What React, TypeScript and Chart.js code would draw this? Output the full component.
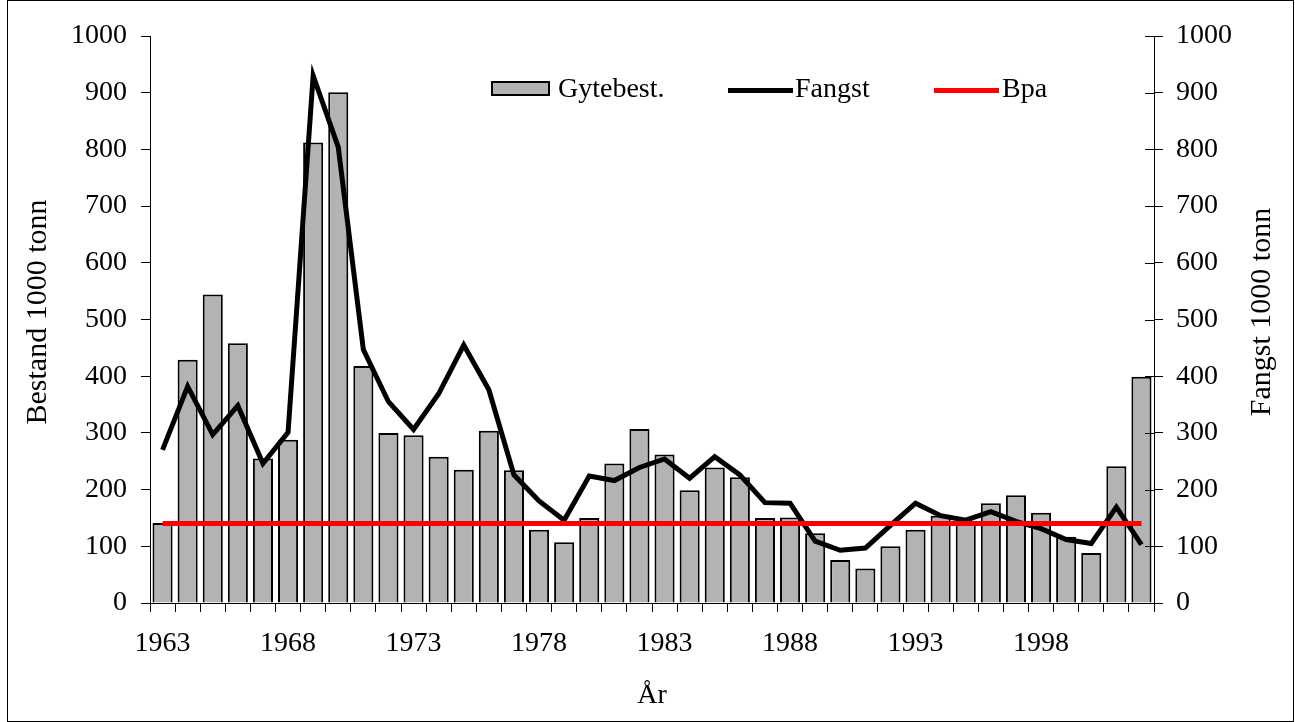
import React, { useEffect, useRef } from 'react';
import { Chart, registerables } from 'chart.js';

Chart.register(...registerables);

const FONT = "'Liberation Serif', 'Times New Roman', serif";

const YEARS = [
  '1963', '1964', '1965', '1966', '1967', '1968', '1969', '1970', '1971', '1972',
  '1973', '1974', '1975', '1976', '1977', '1978', '1979', '1980', '1981', '1982',
  '1983', '1984', '1985', '1986', '1987', '1988', '1989', '1990', '1991', '1992',
  '1993', '1994', '1995', '1996', '1997', '1998', '1999', '2000', '2001', '2002',
];

// Gytebestand (1000 tonn), left axis
const GYTEBEST = [
  141, 429, 544, 458, 255, 288, 812, 901, 418, 300,
  296, 258, 235, 304, 234, 129, 107, 150, 246, 307,
  262, 199, 239, 222, 150, 151, 123, 76, 61, 100,
  129, 154, 144, 176, 190, 159, 117, 88, 241, 399,
];

// Fangst (1000 tonn), right axis
const FANGST = [
  270, 382, 297, 348, 246, 301, 930, 804, 447, 355,
  306, 369, 455, 376, 226, 180, 146, 224, 216, 239,
  254, 220, 258, 226, 177, 176, 109, 93, 97, 137,
  176, 154, 146, 161, 144, 131, 112, 105, 169, 103,
];

// Precautionary reference level Bpa
const BPA = 140;

const Y_TICKS_MIN = 0;
const Y_TICKS_MAX = 1000;
const Y_TICKS_STEP = 100;
const X_LABEL_EVERY = 5;

const Y_TITLE = 'Bestand 1000 tonn';
const Y1_TITLE = 'Fangst 1000 tonn';
const X_TITLE = 'År';

const overlayPlugin = {
  id: 'overlay',
  afterDraw(chart: any) {
    const ctx = chart.ctx as CanvasRenderingContext2D;
    const area = chart.chartArea;
    ctx.save();

    // inner half of the crossing tick marks on the right axis
    const y1 = chart.scales.y1;
    ctx.strokeStyle = '#000';
    ctx.lineWidth = 1;
    y1.ticks.forEach((t: any) => {
      const py = Math.round(y1.getPixelForValue(t.value)) + 0.5;
      ctx.beginPath();
      ctx.moveTo(area.right - 9, py);
      ctx.lineTo(area.right, py);
      ctx.stroke();
    });

    // axis titles
    ctx.fillStyle = '#000';
    ctx.font = `30px ${FONT}`;
    ctx.textAlign = 'center';
    ctx.textBaseline = 'middle';
    const midY = 312;
    ctx.save();
    ctx.translate(38, midY);
    ctx.rotate(-Math.PI / 2);
    ctx.fillText(Y_TITLE, 0, 0);
    ctx.restore();
    ctx.save();
    ctx.translate(1262, midY);
    ctx.rotate(-Math.PI / 2);
    ctx.fillText(Y1_TITLE, 0, 0);
    ctx.restore();
    ctx.font = `28px ${FONT}`;
    ctx.textBaseline = 'alphabetic';
    ctx.fillText(X_TITLE, (area.left + area.right) / 2, 703);

    // legend inside the plot
    const ds = chart.data.datasets;
    const ly = 90;
    ctx.textAlign = 'left';
    ctx.textBaseline = 'middle';
    // bar item
    ctx.fillStyle = ds[0].backgroundColor;
    ctx.fillRect(492, 82, 57, 13);
    ctx.strokeStyle = ds[0].borderColor;
    ctx.lineWidth = 2;
    ctx.strokeRect(492, 82, 57, 13);
    ctx.fillStyle = '#000';
    ctx.fillText(ds[0].label, 558, ly);
    // line items
    const lineItem = (d: any, x0: number, x1: number, tx: number) => {
      ctx.strokeStyle = d.borderColor;
      ctx.lineWidth = 5;
      ctx.beginPath();
      ctx.moveTo(x0, ly + 0.5);
      ctx.lineTo(x1, ly + 0.5);
      ctx.stroke();
      ctx.fillStyle = '#000';
      ctx.fillText(d.label, tx, ly);
    };
    lineItem(ds[1], 728, 793, 795);
    lineItem(ds[2], 934, 999, 1002);

    ctx.restore();
  },
};

export default function App() {
  const canvasRef = useRef<HTMLCanvasElement | null>(null);

  useEffect(() => {
    const canvas = canvasRef.current;
    if (!canvas) return;
    const tickFont = { size: 28, family: FONT };
    const plain = (v: any) => String(v);
    const chart = new Chart(canvas, {
      type: 'bar',
      data: {
        labels: YEARS,
        datasets: [
          {
            type: 'bar',
            label: 'Gytebest.',
            data: GYTEBEST,
            backgroundColor: '#b3b3b3',
            borderColor: '#000000',
            borderWidth: 2,
            barPercentage: 0.8,
            categoryPercentage: 1,
            yAxisID: 'y',
            order: 2,
          },
          {
            type: 'line',
            label: 'Fangst',
            data: FANGST,
            borderColor: '#000000',
            backgroundColor: '#000000',
            borderWidth: 5,
            pointRadius: 0,
            tension: 0,
            borderJoinStyle: 'miter',
            yAxisID: 'y1',
            order: 1,
          },
          {
            type: 'line',
            label: 'Bpa',
            data: YEARS.map(() => BPA),
            borderColor: '#ff0000',
            backgroundColor: '#ff0000',
            borderWidth: 5,
            pointRadius: 0,
            tension: 0,
            yAxisID: 'y',
            order: 0,
          },
        ] as any,
      },
      options: {
        responsive: false,
        animation: false,
        devicePixelRatio: 1,
        layout: { padding: { top: 36, left: 0, right: 0, bottom: 0 } },
        plugins: {
          legend: { display: false },
          tooltip: { enabled: false },
          title: { display: false },
        },
        scales: {
          x: {
            type: 'category',
            offset: true,
            grid: {
              offset: true,
              drawOnChartArea: false,
              drawTicks: true,
              tickLength: 9,
              color: '#000',
              lineWidth: 1,
            },
            border: { color: '#000', width: 1 },
            ticks: {
              autoSkip: false,
              maxRotation: 0,
              minRotation: 0,
              padding: 15,
              color: '#000',
              font: tickFont,
              callback: (_v: any, i: number) => (i % X_LABEL_EVERY === 0 ? YEARS[i] : ''),
            },
            afterFit: (s: any) => {
              s.height = 119;
            },
          },
          y: {
            position: 'left',
            min: Y_TICKS_MIN,
            max: Y_TICKS_MAX,
            grid: { drawOnChartArea: false, tickLength: 9, color: '#000' },
            border: { color: '#000', width: 1 },
            ticks: { stepSize: Y_TICKS_STEP, padding: 14, color: '#000', font: tickFont, callback: plain },
            afterFit: (s: any) => {
              s.width = 150;
            },
          },
          y1: {
            position: 'right',
            min: Y_TICKS_MIN,
            max: Y_TICKS_MAX,
            grid: { drawOnChartArea: false, tickLength: 9, color: '#000' },
            border: { color: '#000', width: 1 },
            ticks: { stepSize: Y_TICKS_STEP, padding: 13, color: '#000', font: tickFont, callback: plain },
            afterFit: (s: any) => {
              s.width = 141;
            },
          },
        },
      } as any,
      plugins: [overlayPlugin],
    });
    return () => chart.destroy();
  }, []);

  return (
    <div style={{ position: 'absolute', left: 0, top: 0, width: 1295, height: 722, background: '#fff' }}>
      <canvas ref={canvasRef} width={1295} height={722} style={{ display: 'block', width: 1295, height: 722 }} />
      <div
        style={{
          position: 'absolute',
          left: 7,
          top: 0,
          width: 1287,
          height: 722,
          boxSizing: 'border-box',
          border: '1px solid #000',
          pointerEvents: 'none',
        }}
      />
    </div>
  );
}
